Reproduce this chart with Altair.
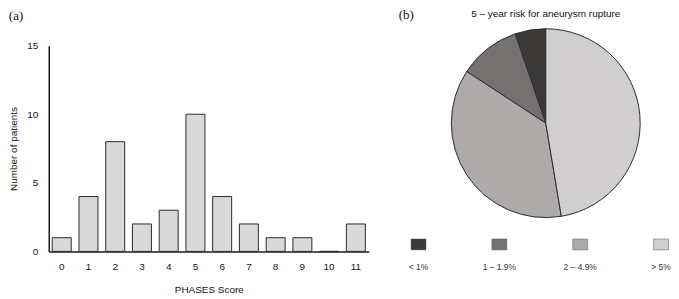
import altair as alt
import pandas as pd

# ---- data ----
scores = list(range(12))
patients = [1, 4, 8, 2, 3, 10, 4, 2, 1, 1, 0, 2]
y_ticks = [0, 5, 10, 15]

risk_labels = ["< 1%", "1 – 1.9%", "2 – 4.9%", "> 5%"]
risk_counts = [2, 4, 14, 18]
risk_colors = ["#3b3838", "#757171", "#aeaaaa", "#d0cece"]
pie_order = [4, 3, 2, 1]

pie_title = ["5 – year risk for aneurysm rupture"]
panel_b = ["(b)"]

bars_df = pd.DataFrame({"score": scores, "patients": patients})
risk_df = pd.DataFrame({"risk": risk_labels, "count": risk_counts, "ord": pie_order})

SANS = "Liberation Sans"
SERIF = "Liberation Serif"

bars = alt.Chart(bars_df).mark_bar(
    fill="#d9d9d9", stroke="#2b2b2b", strokeWidth=1
).encode(
    x=alt.X(
        "score:O",
        scale=alt.Scale(paddingInner=0.29, paddingOuter=0.13),
        axis=alt.Axis(
            title="PHASES Score", labelAngle=0, ticks=False, labelPadding=10,
            titlePadding=13, domainColor="#1a1a1a", domainWidth=1.5,
            labelFont=SANS, labelFontSize=10, labelColor="#111",
            titleFont=SANS, titleFontSize=10, titleFontWeight="normal", titleColor="#111",
        ),
    ),
    y=alt.Y(
        "patients:Q",
        scale=alt.Scale(domain=[0, 15]),
        axis=alt.Axis(
            values=y_ticks, title="Number of patients", grid=False, ticks=False,
            labelPadding=11, titlePadding=8, domainColor="#1a1a1a", domainWidth=1.5,
            labelFont=SANS, labelFontSize=10, labelColor="#111",
            titleFont=SANS, titleFontSize=10, titleFontWeight="normal", titleColor="#111",
        ),
    ),
).properties(
    width=322, height=207,
    title=alt.TitleParams(
        "(a)", anchor="start", frame="bounds", font=SERIF, fontSize=13,
        fontWeight="normal", offset=18, color="#111",
    ),
)

color = alt.Color("risk:N", scale=alt.Scale(domain=risk_labels, range=risk_colors), legend=None)
legend_x = alt.X("risk:N", scale=alt.Scale(domain=risk_labels, range=[20, 264], padding=0), axis=None)

pie = alt.Chart(risk_df).mark_arc(
    outerRadius=95, stroke="#2b2b2b", strokeWidth=1, x=148, y=78
).encode(
    theta=alt.Theta("count:Q", stack=True),
    order=alt.Order("ord:Q"),
    color=color,
)

swatch_shape = "M -1 -0.733 H 1 V 0.733 H -1 Z"
swatches = alt.Chart(risk_df).mark_point(
    shape=swatch_shape, size=225, filled=True, opacity=1,
    stroke="#555", strokeWidth=0.5,
).encode(x=legend_x, y=alt.value(200), color=color)

labels = alt.Chart(risk_df).mark_text(
    font=SANS, fontSize=8.5, color="#333"
).encode(x=legend_x, y=alt.value(223), text="risk:N")

b_text = alt.Chart(pd.DataFrame({"t": panel_b})).mark_text(
    align="left", baseline="top", font=SERIF, fontSize=13, color="#111", x=0, y=-37
).encode(text="t:N")

t_text = alt.Chart(pd.DataFrame({"t": pie_title})).mark_text(
    align="center", baseline="top", font=SANS, fontSize=10, color="#111", x=148, y=-37
).encode(text="t:N")

right = alt.layer(pie, swatches, labels, b_text, t_text).properties(width=271, height=207)

chart = alt.hconcat(bars, right, spacing=30, padding=0).configure_view(stroke=None)

chart.save("out.html", embed_options={"renderer": "svg", "actions": False})
